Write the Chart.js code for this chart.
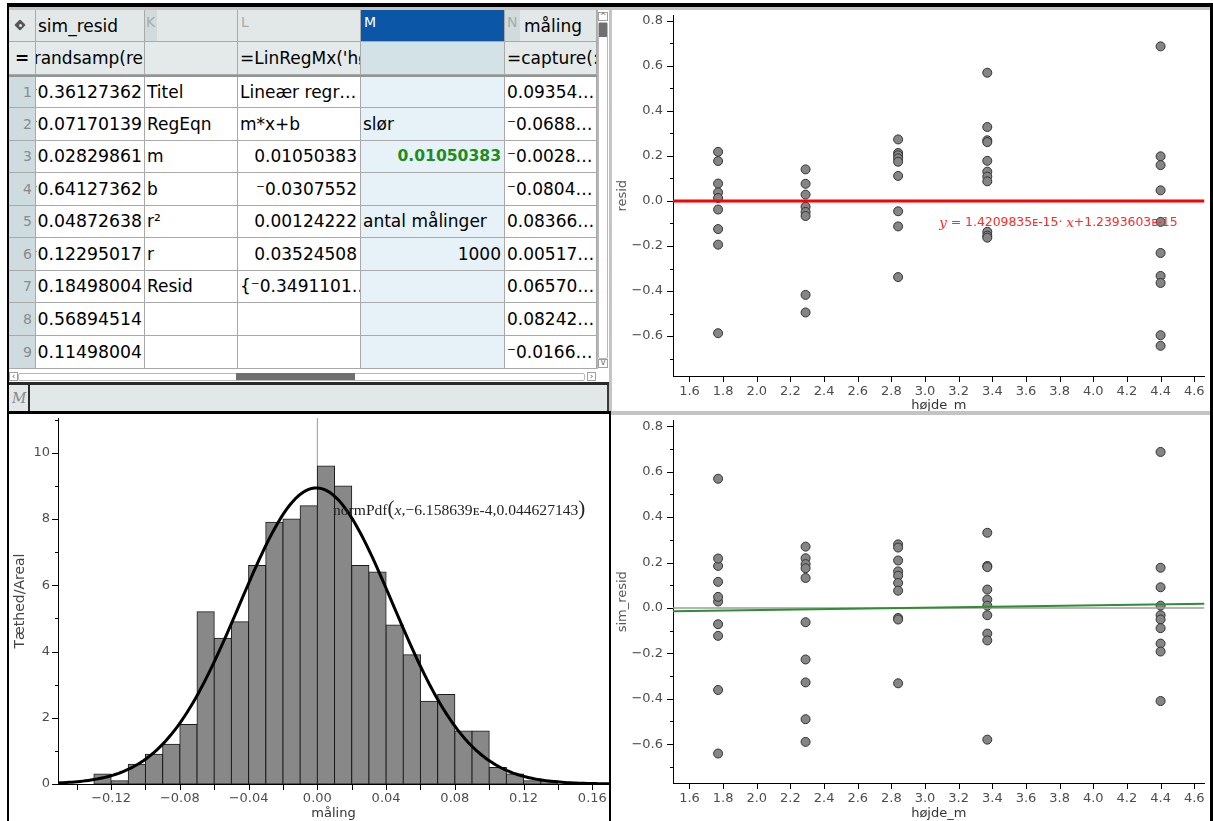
<!DOCTYPE html>
<html lang="da">
<head>
<meta charset="utf-8">
<title>Residualer og simulering</title>
<script src="https://cdn.jsdelivr.net/npm/chart.js"></script>
<style>
  html, body { margin:0; padding:0; background:#fff; }
  body { position:relative; width:1213px; height:821px; overflow:hidden; font-family:"DejaVu Sans", sans-serif; }
  .abs { position:absolute; box-sizing:border-box; }
  .cell { position:absolute; box-sizing:border-box; overflow:hidden; white-space:nowrap; font-size:17px; color:#000;
          border-right:1px solid #a9a9a9; border-bottom:1px solid #a9a9a9; padding:0 2px; }
  .txt { position:absolute; white-space:nowrap; overflow:hidden; }
  .panel { position:absolute; overflow:hidden; background:#fff; }
  .panel canvas { display:block; }
</style>
</head>
<body>
<div id="sheet"></div>
<div class="panel" style="left:612px;top:10px;width:598px;height:401px"><canvas id="residChart" width="598" height="403"></canvas></div>
<div class="panel" style="left:9px;top:414px;width:600px;height:407px"><canvas id="histChart" width="600" height="407"></canvas></div>
<div class="panel" style="left:612px;top:415px;width:598px;height:406px"><canvas id="simChart" width="598" height="406"></canvas></div>
<div id="frame"></div>
<script>
// ---------------- data ----------------
const heights = [1.77, 2.29, 2.84, 3.37, 4.40];

// residuals from the linear fit, grouped by height
const resid177 = [0.218, 0.177, 0.077, 0.038, 0.013, -0.038, -0.125, -0.194, -0.587];
const resid229 = [0.140, 0.076, 0.028, -0.026, -0.049, -0.067, -0.417, -0.495];
const resid284 = [0.273, 0.213, 0.203, 0.189, 0.174, 0.111, -0.046, -0.113, -0.338];
const resid337 = [0.569, 0.328, 0.269, 0.261, 0.178, 0.130, 0.108, 0.087, -0.137, -0.154, -0.163];
const resid440 = [0.686, 0.198, 0.159, 0.047, -0.093, -0.231, -0.333, -0.364, -0.596, -0.643];

// resampled residuals (sim_resid), grouped by height
const simResid177 = [-0.36127362, -0.07170139, 0.02829861, -0.64127362, 0.04872638, -0.12295017, 0.18498004, 0.56894514, 0.11498004, 0.2175];
const simResid229 = [0.270, 0.219, 0.193, 0.175, 0.132, -0.063, -0.227, -0.328, -0.490, -0.590];
const simResid284 = [0.280, 0.266, 0.209, 0.161, 0.142, 0.110, 0.076, -0.044, -0.051, -0.332];
const simResid337 = [0.331, 0.185, 0.180, 0.081, 0.037, 0.010, -0.032, -0.113, -0.143, -0.580];
const simResid440 = [0.687, 0.177, 0.091, 0.010, -0.032, -0.051, -0.089, -0.157, -0.192, -0.410];

// regression of resid on height (red line) and of sim_resid on height (green line)
const residSlope = 1.4209835e-15;
const residIntercept = 1.2393603e-15;
const regM = 0.01050383;
const regB = -0.0307552;
const regR2 = 0.00124222;
const regR = 0.03524508;
const antalMaalinger = 1000;

// histogram of the measurements (density per bin of width 0.01)
const binLeft = [-0.13, -0.12, -0.11, -0.10, -0.09, -0.08, -0.07, -0.06, -0.05, -0.04, -0.03, -0.02, -0.01,
                 0.00, 0.01, 0.02, 0.03, 0.04, 0.05, 0.06, 0.07, 0.08, 0.09, 0.10, 0.11, 0.12, 0.13];
const density = [0.3, 0.1, 0.6, 0.9, 1.2, 1.8, 5.2, 4.4, 4.9, 6.6, 7.9, 8.0, 8.4,
                 9.6, 9.0, 6.6, 6.4, 4.8, 3.9, 2.5, 2.7, 1.6, 1.6, 0.5, 0.3, 0.1, 0.1];
const binWidth = 0.01;
const normMu = -6.158639e-4;
const normSigma = 0.044627143;

// first rows of the spreadsheet columns
const maalingShown = ['0.09354…', '⁻0.0688…', '⁻0.0028…', '⁻0.0804…', '0.08366…', '0.00517…', '0.06570…', '0.08242…', '⁻0.0166…'];
const colKLabels = ['Titel', 'RegEqn', 'm', 'b', 'r²', 'r', 'Resid', '', ''];

// tick values
const heightTicks = [1.6, 1.8, 2.0, 2.2, 2.4, 2.6, 2.8, 3.0, 3.2, 3.4, 3.6, 3.8, 4.0, 4.2, 4.4, 4.6];
const residTicks = [-0.6, -0.4, -0.2, 0.0, 0.2, 0.4, 0.6, 0.8];
const residMinorTicks = [-0.7, -0.5, -0.3, -0.1, 0.1, 0.3, 0.5, 0.7];
const maalingTicks = [-0.14, -0.12, -0.10, -0.08, -0.06, -0.04, -0.02, 0.00, 0.02, 0.04, 0.06, 0.08, 0.10, 0.12, 0.14, 0.16];
const maalingLabelled = [-0.12, -0.08, -0.04, 0.00, 0.04, 0.08, 0.12, 0.16];
const densityTicks = [0, 2, 4, 6, 8, 10];
const densityMinorTicks = [1, 3, 5, 7, 9, 11];

// ---------------- helpers ----------------
const tiNum = v => (v < 0 ? '⁻' : '') + String(Math.abs(v));
const tiFixed = v => (v < 0 ? '⁻' : '') + Math.abs(v).toFixed(8);
const axisNum = (v, d) => (Math.abs(v) < 1e-9 ? (0).toFixed(d) : v.toFixed(d)).replace('-', '\u2212');
const sciText = (v, d) => v.toExponential(d).replace('e', 'ᴇ').replace('ᴇ+', 'ᴇ');

function el(parent, cls, x, y, w, h, css, text) {
  const d = document.createElement('div');
  d.className = cls;
  d.style.cssText = `left:${x}px;top:${y}px;width:${w}px;height:${h}px;${css || ''}`;
  if (text !== undefined && text !== null) d.textContent = text;
  parent.appendChild(d);
  return d;
}
// text pinned to the right edge of a cell, cut off on the left when too long
function rightText(cell, text, right, css) {
  const s = document.createElement('span');
  s.textContent = text;
  s.style.cssText = `position:absolute;right:${right}px;top:0;${css || ''}`;
  cell.appendChild(s);
}

// ---------------- spreadsheet ----------------
const sheet = document.getElementById('sheet');
const colEdges = [9, 36, 145, 238, 361, 505, 597];
const rowEdges = [77, 108, 141, 173, 206, 238, 271, 303, 336, 369];
const HDR_BG = '#e2e8e8', FORM_BG = '#e4eaea', NUM_BG = '#cedcdf', M_BG = '#e6f2f8';

const colLShown = ['Lineær regr…', 'm*x+b', tiNum(regM), tiNum(regB), tiNum(regR2), tiNum(regR), '{⁻0.3491101…', '', ''];
const colMShown = ['', 'slør', tiNum(regM), '', 'antal målinger', String(antalMaalinger), '', '', ''];
const formulas = ['=randsamp(re', '', "=LinRegMx('højde_m',", '', '=capture(:'];

// header row
for (let c = 0; c < 6; c++) {
  const x = colEdges[c], w = colEdges[c + 1] - x;
  el(sheet, 'cell', x, 10, w, 32, `background:${c === 4 ? '#0b56a6' : HDR_BG}`);
}
// tag icon
el(sheet, 'abs', 16, 21, 8, 8, 'background:#555;transform:rotate(45deg);border-radius:1px');
el(sheet, 'abs', 18.5, 23.5, 3, 3, 'background:#e2e8e8;border-radius:50%');
el(sheet, 'txt', 38, 10, 105, 32, 'font-size:17px;line-height:33px', 'sim_resid');
el(sheet, 'abs', 145, 10, 12, 31, 'background:#d2dbdb');
el(sheet, 'txt', 146, 12, 11, 22, 'font-size:14px;color:#a3adad;line-height:20px', 'K');
el(sheet, 'txt', 241, 12, 12, 22, 'font-size:14px;color:#a3adad;line-height:20px', 'L');
el(sheet, 'txt', 364, 12, 16, 22, 'font-size:14px;color:#fff;line-height:20px', 'M');
el(sheet, 'abs', 505, 10, 15, 31, 'background:#d2dbdb');
el(sheet, 'txt', 507, 12, 13, 22, 'font-size:14px;color:#a3adad;line-height:20px', 'N');
el(sheet, 'txt', 524, 10, 72, 32, 'font-size:17px;line-height:33px', 'måling');

// formula row
for (let c = 0; c < 6; c++) {
  const x = colEdges[c], w = colEdges[c + 1] - x;
  const d = el(sheet, 'cell', x, 42, w, 33, `background:${c === 4 ? '#d3e2e7' : FORM_BG};line-height:32px`);
  if (c === 0) { d.textContent = '='; d.style.textAlign = 'center'; d.style.fontWeight = 'bold'; }
  else if (c === 1) rightText(d, formulas[0], 1);
  else if (formulas[c - 1]) d.textContent = formulas[c - 1];
}
el(sheet, 'abs', 9, 75, 588, 2, 'background:#8f9696');

// data rows
const isNum = s => /^[⁻\-]?[\d.]+$/.test(s);
for (let i = 0; i < 9; i++) {
  const y = rowEdges[i], h = rowEdges[i + 1] - y, lh = `line-height:${h - 1}px;`;
  el(sheet, 'cell', 9, y, 27, h, lh + `background:${NUM_BG};font-size:14px;color:#8a8a8a;text-align:right;padding-right:3px`, String(i + 1));
  // sim_resid column: right aligned, the sign is cut off by the narrow column
  const j = el(sheet, 'cell', 36, y, 109, h, lh);
  rightText(j, tiFixed(simResid177[i]), 2, 'font-size:17.3px');
  el(sheet, 'cell', 145, y, 93, h, lh, colKLabels[i]);
  el(sheet, 'cell', 238, y, 123, h, lh + (isNum(colLShown[i]) ? 'text-align:right;padding-right:3px' : ''), colLShown[i]);
  const mTxt = colMShown[i];
  let mCss = lh + `background:${M_BG};`;
  if (isNum(mTxt)) mCss += 'text-align:right;padding-right:3px;';
  if (i === 2) mCss += 'color:#1e8c1e;font-weight:bold;font-size:15.6px;';
  el(sheet, 'cell', 361, y, 144, h, mCss, mTxt);
  el(sheet, 'cell', 505, y, 92, h, lh, maalingShown[i]);
}

// vertical scrollbar
el(sheet, 'abs', 597, 10, 12, 361, 'background:#fff;border-left:1px solid #b5b5b5');
el(sheet, 'abs', 598, 12, 10, 9, 'border:1px solid #a0a0a0;font-size:8px;line-height:7px;text-align:center;color:#666', '^');
el(sheet, 'abs', 598, 22, 10, 337, 'border:1px solid #b8b8b8;border-radius:2px');
el(sheet, 'abs', 599, 23, 8, 14, 'background:#707070');
el(sheet, 'abs', 598, 359, 10, 9, 'border:1px solid #a0a0a0;font-size:8px;line-height:6px;text-align:center;color:#666', 'v');
// horizontal scrollbar
el(sheet, 'abs', 9, 369, 600, 13, 'background:#fff');
el(sheet, 'abs', 9, 372, 9, 9, 'border:1px solid #a0a0a0;font-size:9px;line-height:7px;text-align:center;color:#666', '‹');
el(sheet, 'abs', 18, 373, 567, 8, 'border:1px solid #b8b8b8;border-radius:2px');
el(sheet, 'abs', 236, 373, 119, 7, 'background:#707070');
el(sheet, 'abs', 587, 372, 9, 9, 'border:1px solid #a0a0a0;font-size:9px;line-height:7px;text-align:center;color:#666', '›');
// entry line
el(sheet, 'abs', 7, 382, 604, 3, 'background:#2a2a2a');
el(sheet, 'abs', 9, 385, 600, 26, 'background:#e1e8e7;border-right:2px solid #3a3a3a');
el(sheet, 'txt', 12, 385, 16, 26, 'font-family:"DejaVu Serif",serif;font-style:italic;font-size:14px;color:#888;line-height:26px', 'M');
el(sheet, 'abs', 28, 385, 2, 26, 'background:#2a2a2a');

// ---------------- frame ----------------
const frame = document.getElementById('frame');
el(frame, 'abs', 9, 7, 1201, 3, 'background:#c4c4c4');
el(frame, 'abs', 609, 7, 3, 404, 'background:#c4c4c4');
el(frame, 'abs', 611, 411, 599, 4, 'background:#c4c4c4');
el(frame, 'abs', 7, 3, 1206, 4, 'background:#000');
el(frame, 'abs', 7, 3, 2, 818, 'background:#000');
el(frame, 'abs', 1210, 3, 3, 818, 'background:#000');
el(frame, 'abs', 7, 411, 604, 3, 'background:#000');
el(frame, 'abs', 609, 411, 2, 410, 'background:#000');

// ---------------- charts ----------------
const TICK_FONT = { family: 'DejaVu Sans', size: 13 };
const TICK_COLOR = '#4d4d4d';

// fixed scale box sizes so the plot areas land where the panels need them
const fixSize = size => s => {
  if (s.isHorizontal()) s.height = size; else s.width = size;
  s.paddingLeft = s.paddingRight = s.paddingTop = s.paddingBottom = 0;
};

// tick marks of different lengths, drawn through the scales
const tickMarks = sets => ({
  id: 'tickMarks',
  afterDraw(chart) {
    const ctx = chart.ctx;
    ctx.save();
    ctx.strokeStyle = '#000';
    ctx.lineWidth = 1;
    sets.forEach(({ axis, values, len }) => {
      const s = chart.scales[axis];
      values.forEach(v => {
        const p = Math.round(s.getPixelForValue(v)) + 0.5;
        ctx.beginPath();
        if (s.isHorizontal()) { ctx.moveTo(p, s.top); ctx.lineTo(p, s.top + len); }
        else { ctx.moveTo(s.right, p); ctx.lineTo(s.right - len, p); }
        ctx.stroke();
      });
    });
    ctx.restore();
  }
});

// text labels made of differently styled runs
const textNotes = notes => ({
  id: 'textNotes',
  afterDraw(chart) {
    const ctx = chart.ctx;
    notes.forEach(n => {
      let x = chart.scales.x.getPixelForValue(n.x);
      const y = chart.scales.y.getPixelForValue(n.y);
      ctx.save();
      ctx.fillStyle = n.color;
      ctx.textBaseline = 'middle';
      ctx.textAlign = 'left';
      n.parts.forEach(p => {
        ctx.font = p.font;
        ctx.fillText(p.text, x, y + (p.dy || 0));
        x += ctx.measureText(p.text).width;
      });
      ctx.restore();
    });
  }
});

const H_X_MIN = 1.502, H_X_MAX = 4.661;

function scatterPanel(canvasId, groups, yTitle, yMin, yMax, padTop, xScaleH, lines, notes) {
  const pts = [];
  heights.forEach((h, i) => groups[i].forEach(v => pts.push({ x: h, y: v })));
  const lineSets = lines.map(ln => ({
    type: 'line',
    data: [{ x: H_X_MIN, y: ln.m * H_X_MIN + ln.b }, { x: H_X_MAX, y: ln.m * H_X_MAX + ln.b }],
    borderColor: ln.color, borderWidth: ln.width, pointRadius: 0, fill: false, order: ln.order
  }));
  return new Chart(document.getElementById(canvasId), {
    type: 'scatter',
    data: {
      datasets: [...lineSets, {
        data: pts, pointRadius: 4.5, pointBackgroundColor: '#858585',
        pointBorderColor: '#333', pointBorderWidth: 1, order: 5
      }]
    },
    options: {
      responsive: false, animation: false, devicePixelRatio: 1, events: [],
      layout: { padding: { top: padTop, left: 0, right: 0, bottom: 0 } },
      plugins: { legend: { display: false }, tooltip: { enabled: false } },
      scales: {
        x: {
          type: 'linear', position: 'bottom', min: H_X_MIN, max: H_X_MAX, bounds: 'data',
          afterBuildTicks: s => { s.ticks = heightTicks.map(v => ({ value: v })); },
          afterFit: fixSize(xScaleH),
          grid: { display: false, drawTicks: true, tickLength: 6 },
          border: { display: true, color: '#000', width: 1 },
          ticks: { autoSkip: false, maxRotation: 0, minRotation: 0, padding: 2, color: TICK_COLOR, font: TICK_FONT,
                   callback: v => axisNum(v, 1) },
          title: { display: true, text: 'højde_m', color: '#333', font: { family: 'DejaVu Sans', size: 13 }, padding: { top: 0, bottom: 0 } }
        },
        y: {
          type: 'linear', position: 'left', min: yMin, max: yMax, bounds: 'data',
          afterBuildTicks: s => { s.ticks = residTicks.map(v => ({ value: v })); },
          afterFit: fixSize(61),
          grid: { display: false, drawTicks: true, tickLength: 6 },
          border: { display: true, color: '#000', width: 1 },
          ticks: { autoSkip: false, padding: 4, color: TICK_COLOR, font: TICK_FONT, callback: v => axisNum(v, 1) },
          title: { display: true, text: yTitle, color: '#555', font: { family: 'DejaVu Sans', size: 13 }, padding: { top: 3, bottom: 0 } }
        }
      }
    },
    plugins: [
      tickMarks([
        { axis: 'x', values: heightTicks, len: 6 },
        { axis: 'y', values: residTicks, len: 6 },
        { axis: 'y', values: residMinorTicks, len: 3 }
      ]),
      textNotes(notes)
    ]
  });
}

// residuals against height
scatterPanel('residChart', [resid177, resid229, resid284, resid337, resid440], 'resid',
  -0.777, 0.823, 0, 37,
  [{ m: residSlope, b: residIntercept, color: '#ff0000', width: 3, order: 1 }],
  [{
    x: 3.084, y: -0.099, color: '#ff2a2a',
    parts: [
      { text: 'y', font: 'italic 13.5px "DejaVu Serif"' },
      { text: ' = ' + sciText(residSlope, 7) + '· ', font: '12.4px "DejaVu Sans"' },
      { text: 'x', font: 'italic 13.5px "DejaVu Serif"' },
      { text: '+' + sciText(residIntercept, 7), font: '12.4px "DejaVu Sans"' }
    ]
  }]);

// resampled residuals against height
scatterPanel('simChart', [simResid177, simResid229, simResid284, simResid337, simResid440], 'sim_resid',
  -0.771, 0.8255, 3, 38,
  [
    { m: 0, b: 0, color: '#9c9c9c', width: 1.5, order: 2 },
    { m: regM, b: regB, color: '#2f8f2f', width: 2, order: 1 }
  ],
  []);

// histogram of the measurements with the fitted normal density
const M_X_MIN = -0.1509, M_X_MAX = 0.1697, M_Y_MAX = 11.05;
const normPdf = (x, mu, s) => Math.exp(-0.5 * ((x - mu) / s) ** 2) / (s * Math.sqrt(2 * Math.PI));
const curve = [];
for (let k = 0; k <= 200; k++) {
  const x = M_X_MIN + (M_X_MAX - M_X_MIN) * k / 200;
  curve.push({ x, y: normPdf(x, normMu, normSigma) });
}

new Chart(document.getElementById('histChart'), {
  type: 'bar',
  data: {
    datasets: [
      { type: 'line', data: [{ x: 0, y: 0 }, { x: 0, y: M_Y_MAX }], borderColor: '#9a9a9a', borderWidth: 1, pointRadius: 0, order: 3 },
      {
        type: 'bar', data: binLeft.map((l, i) => ({ x: l + binWidth / 2, y: density[i] })),
        backgroundColor: '#888888', borderColor: '#1a1a1a', borderWidth: 1, inflateAmount: 0.5,
        borderSkipped: false, barPercentage: 1, categoryPercentage: 1, order: 2
      },
      { type: 'line', data: curve, borderColor: '#000', borderWidth: 3, pointRadius: 0, tension: 0, borderJoinStyle: 'round', order: 1 }
    ]
  },
  options: {
    responsive: false, animation: false, devicePixelRatio: 1, events: [],
    layout: { padding: { top: 4, left: 0, right: 0, bottom: 0 } },
    plugins: { legend: { display: false }, tooltip: { enabled: false } },
    scales: {
      x: {
        type: 'linear', position: 'bottom', min: M_X_MIN, max: M_X_MAX, bounds: 'data', offset: false,
        afterBuildTicks: s => { s.ticks = maalingTicks.map(v => ({ value: v })); },
        afterFit: fixSize(37),
        grid: { display: false, drawTicks: true, tickLength: 6, offset: false },
        border: { display: true, color: '#000', width: 1 },
        ticks: {
          autoSkip: false, maxRotation: 0, minRotation: 0, padding: 1, color: TICK_COLOR, font: TICK_FONT,
          callback: v => maalingLabelled.some(t => Math.abs(t - v) < 1e-9) ? axisNum(v, 2) : ''
        },
        title: { display: true, text: 'måling', color: '#333', font: { family: 'DejaVu Sans', size: 13 }, padding: { top: 0, bottom: 0 } }
      },
      y: {
        type: 'linear', position: 'left', min: 0, max: M_Y_MAX, bounds: 'data',
        afterBuildTicks: s => { s.ticks = densityTicks.map(v => ({ value: v })); },
        afterFit: fixSize(49),
        grid: { display: false, drawTicks: true, tickLength: 6 },
        border: { display: true, color: '#000', width: 1 },
        ticks: { autoSkip: false, padding: 2, color: TICK_COLOR, font: TICK_FONT, callback: v => String(v) },
        title: { display: true, text: 'Tæthed/Areal', color: '#444', font: { family: 'DejaVu Sans', size: 14 }, padding: { top: 3, bottom: 0 } }
      }
    }
  },
  plugins: [
    tickMarks([
      { axis: 'x', values: maalingTicks, len: 6 },
      { axis: 'y', values: densityTicks, len: 6 },
      { axis: 'y', values: densityMinorTicks, len: 3 }
    ]),
    textNotes([{
      x: 0.0091, y: 8.25, color: '#222',
      parts: [
        { text: 'normPdf', font: '15.6px "Liberation Serif"' },
        { text: '(', font: '21px "Liberation Serif"', dy: -1 },
        { text: 'x', font: 'italic 15.6px "Liberation Serif"' },
        { text: ',' + sciText(normMu, 6).replace('-', '−') + ',' + String(normSigma), font: '15.6px "Liberation Serif"' },
        { text: ')', font: '21px "Liberation Serif"', dy: -1 }
      ]
    }])
  ]
});
</script>
</body>
</html>
